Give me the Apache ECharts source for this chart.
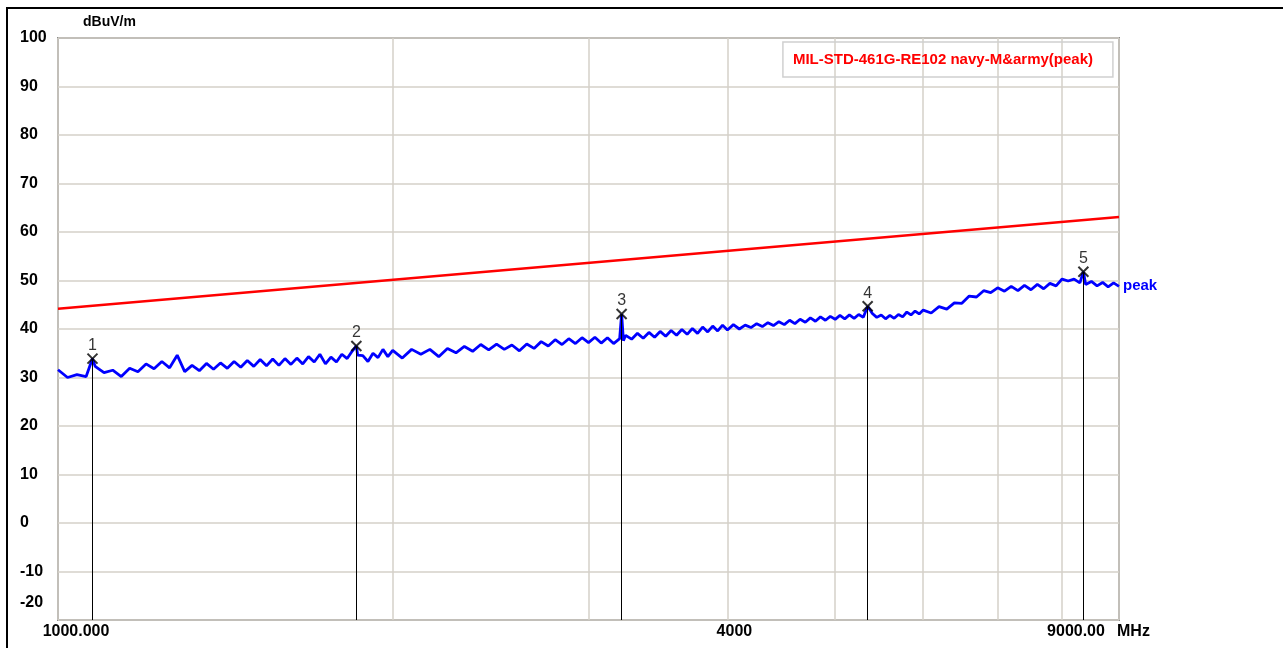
<!DOCTYPE html>
<html>
<head>
<meta charset="utf-8">
<script src="https://cdn.jsdelivr.net/npm/echarts@6/dist/echarts.min.js"></script>
<style>
html,body{margin:0;padding:0;background:#fff;}
#chart{width:1283px;height:648px;}
</style>
</head>
<body>
<div id="chart"></div>
<script>
// ---- data ----
const freqs = [
 1000,1020,1040,1060,1074,1080,1100,1120,1140,1160,1180,1200,1220,1240,1260,
 1280,1300,1320,1340,1360,1380,1400,1420,1440,1460,1480,1500,1520,1540,1560,1580,1600,
 1620,1640,1660,1680,1700,1720,1740,1760,1780,1800,1820,1840,1855,1860,1880,1900,1920,1940,1960,1980,2000,
 2040,2080,2120,2160,2200,2240,2280,2320,2360,2400,2440,2480,2520,2560,2600,2640,2680,2720,2760,2800,
 2840,2880,2920,2960,3000,3040,3080,3120,3160,3200,3213,3225,3240,3280,3320,3360,3400,3440,3480,3520,
 3560,3600,3640,3680,3720,3760,3800,3840,3880,3920,3960,4000,
 4050,4100,4150,4200,4250,4300,4350,4400,4450,4500,4550,4600,4650,4700,4750,4800,4850,4900,4950,5000,
 5050,5100,5150,5200,5250,5300,5348,5400,5450,5500,5550,5600,5650,5700,5750,5800,5850,5900,5950,6000,
 6100,6200,6300,6400,6500,6600,6700,6800,6900,7000,7100,7200,7300,7400,7500,7600,7700,7800,7900,8000,
 8100,8200,8300,8360,8400,8500,8600,8700,8800,8900,9000
];
const levels = [
 31.6,30.0,30.6,30.2,33.9,32.3,31.0,31.5,30.2,31.9,31.2,32.8,31.8,33.3,32.0,
 34.6,31.2,32.5,31.4,32.9,31.7,33.0,31.9,33.3,32.1,33.5,32.3,33.7,32.4,33.8,32.5,33.9,
 32.7,34.0,32.8,34.3,33.2,34.8,32.8,34.2,33.2,34.8,33.9,35.5,36.5,34.6,34.5,33.3,35.0,34.1,35.8,34.3,35.6,
 34.0,35.8,34.8,35.8,34.3,36.0,35.1,36.4,35.4,36.8,35.7,36.9,35.8,36.7,35.5,36.9,36.0,37.4,36.5,37.8,
 36.8,38.0,37.0,38.2,37.2,38.3,37.1,38.2,37.0,38.0,43.1,37.6,38.7,37.9,39.1,38.1,39.3,38.3,39.5,38.5,
 39.7,38.7,39.9,38.9,40.1,39.1,40.4,39.4,40.6,39.6,40.8,39.8,
 40.9,40.0,40.8,40.3,41.1,40.5,41.3,40.7,41.5,40.9,41.8,41.1,42.0,41.4,42.3,41.6,42.5,41.8,42.6,42.0,
 42.8,42.1,42.9,42.2,43.0,42.4,44.7,43.2,42.4,42.9,42.1,42.8,42.2,43.0,42.5,43.5,42.9,43.7,43.1,43.9,
 43.3,44.6,44.1,45.4,45.3,46.8,46.6,47.9,47.5,48.5,47.8,48.8,47.9,49.0,48.1,49.2,48.3,49.4,48.9,50.3,
 49.9,50.3,49.5,51.8,49.2,49.8,48.9,49.6,48.7,49.5,48.8
];
const limitFreqs = [1000, 9000];
const limitLevels = [44.2, 63.1];
const markerFreqs = [1074, 1855, 3213, 5348, 8360];
const markerLevels = [33.9, 36.5, 43.1, 44.7, 51.8];
const markerNames = ['1', '2', '3', '4', '5'];
const xLabelValues = [1000, 4000, 9000];
const xLabelTexts = ['1000.000', '4000', '9000.00'];
const xGridValues = [1000, 2000, 3000, 4000, 5000, 6000, 7000, 8000, 9000];
const yMin = -20, yMax = 100, yStep = 10;

// ---- chart ----
const FONT = '"Liberation Sans", Arial, sans-serif';
const chart = echarts.init(document.getElementById('chart'), null, {renderer: 'canvas'});

const zip = (a, b) => a.map((v, i) => [v, b[i]]);
const markerLineData = markerFreqs.map((f, i) => [
  {coord: [f, yMin]}, {coord: [f, markerLevels[i]]}
]);
const lbl = (extra) => Object.assign({fontFamily: FONT, fontWeight: 'bold', fontSize: 16, color: '#000'}, extra || {});

const option = {
  animation: false,
  backgroundColor: '#ffffff',
  title: {
    text: 'MIL-STD-461G-RE102 navy-M&army(peak)',
    right: 170, top: 42,
    borderColor: '#d0d0d0', borderWidth: 1.5,
    padding: [8, 20, 7, 10],
    textStyle: {color: '#ff0000', fontFamily: FONT, fontWeight: 'bold', fontSize: 15, lineHeight: 20}
  },
  grid: {
    left: 58, right: 164, top: 38, bottom: 28,
    show: true, borderColor: '#8c8c8c', borderWidth: 2, backgroundColor: '#fff'
  },
  xAxis: {
    type: 'log', logBase: 10, min: 1000, max: 9000,
    name: 'MHz', nameLocation: 'end', nameGap: -2,
    nameTextStyle: lbl({align: 'left', verticalAlign: 'top', padding: [4, 0, 0, 0]}),
    axisLine: {show: false, onZero: false},
    axisTick: {show: false, customValues: xGridValues},
    splitLine: {show: true, lineStyle: {color: '#d4d0c8', width: 1.5}},
    axisLabel: {
      customValues: xLabelValues,
      margin: 4,
      color: '#000', fontFamily: FONT, fontWeight: 'bold', fontSize: 16,
      formatter: function (v) {
        const i = xLabelValues.indexOf(Math.round(v));
        const t = i >= 0 ? xLabelTexts[i] : '';
        return '{l' + i + '|' + t + '}';
      },
      rich: {
        l0: lbl({padding: [0, 0, 0, 36]}),
        l1: lbl({padding: [0, 0, 0, 14]}),
        l2: lbl({padding: [0, 86, 0, 0]})
      }
    }
  },
  yAxis: {
    type: 'value', min: yMin, max: yMax, interval: yStep,
    name: 'dBuV/m', nameLocation: 'end', nameGap: 9,
    nameTextStyle: lbl({fontSize: 14, align: 'left', padding: [0, 0, 0, 25]}),
    axisLine: {show: false},
    axisTick: {show: false},
    splitLine: {show: true, lineStyle: {color: '#d4d0c8', width: 1.5}},
    axisLabel: {
      margin: 38, align: 'left',
      color: '#000', fontFamily: FONT, fontWeight: 'bold', fontSize: 16,
      formatter: function (v) { return v === yMin ? '{low|' + v + '}' : '{n|' + v + '}'; },
      rich: {
        n: lbl(),
        low: lbl({padding: [0, 0, 34, 0]})
      }
    }
  },
  series: [
    {
      name: 'limit', type: 'line', data: zip(limitFreqs, limitLevels),
      symbol: 'none', lineStyle: {color: '#ff0000', width: 2.5}, silent: true, z: 3
    },
    {
      name: 'peak', type: 'line', data: zip(freqs, levels),
      symbol: 'none', lineStyle: {color: '#0000ff', width: 2.8}, silent: true, z: 4,
      endLabel: {show: true, formatter: 'peak', color: '#0000ff', fontFamily: FONT, fontWeight: 'bold', fontSize: 15, distance: 4}
    },
    {
      name: 'markers', type: 'scatter', data: zip(markerFreqs, markerLevels),
      symbol: 'path://M0,0L10,10M10,0L0,10', symbolSize: 10,
      itemStyle: {color: 'rgba(0,0,0,0)', borderColor: '#000', borderWidth: 2},
      label: {show: true, position: 'top', distance: -1, formatter: function (p) { return markerNames[p.dataIndex]; },
        color: '#000', fontFamily: FONT, fontSize: 16},
      markLine: {
        silent: true, symbol: 'none', label: {show: false},
        lineStyle: {color: '#000', width: 1, type: 'solid'},
        data: markerLineData
      },
      z: 6
    }
  ],
  graphic: [
    {type: 'line', shape: {x1: 7, y1: 7, x2: 7, y2: 648}, style: {stroke: '#000', lineWidth: 2}},
    {type: 'line', shape: {x1: 6, y1: 8, x2: 1283, y2: 8}, style: {stroke: '#000', lineWidth: 2}}
  ]
};
chart.setOption(option);
</script>
</body>
</html>
